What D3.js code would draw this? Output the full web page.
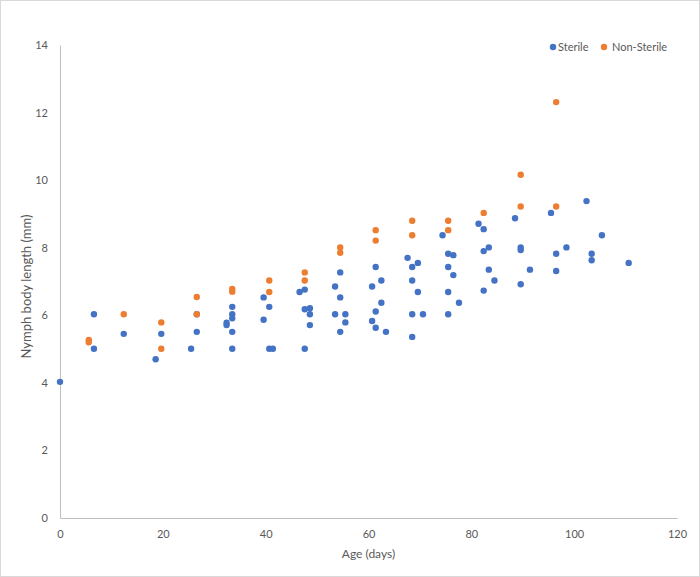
<!DOCTYPE html>
<html>
<head>
<meta charset="utf-8">
<script src="https://cdn.jsdelivr.net/npm/d3@7"></script>
<style>
    body { margin: 0; background: #fff; }
    text { font-family: Lato, "Open Sans", sans-serif; fill: #595959; }
</style>
</head>
<body>
<div id="chart"></div>
<script>
// values
const sterileAges = [
    0, 6.6, 6.6, 12.4, 18.6, 19.7, 25.5, 26.6, 26.6, 32.4, 32.4,
    33.5, 33.5, 33.5, 33.5, 33.5, 39.6, 39.6, 40.7, 40.7, 41.4,
    46.6, 47.6, 47.6, 47.6, 48.6, 48.6, 48.6, 53.5, 53.5,
    54.5, 54.5, 54.5, 55.5, 55.5, 60.7, 60.7, 61.4, 61.4, 61.4,
    62.5, 62.5, 63.4, 67.6, 68.5, 68.5, 68.5, 68.5, 69.6, 69.6, 70.6,
    74.4, 75.5, 75.5, 75.5, 75.5, 76.5, 76.5, 77.6, 81.4,
    82.4, 82.4, 82.4, 83.4, 83.4, 84.5, 88.5, 89.6, 89.6, 89.6, 91.4,
    95.5, 96.5, 96.5, 98.5, 102.4, 103.4, 103.4, 105.4, 110.6
];
const sterileLengths = [
    4.03, 6.03, 5.01, 5.45, 4.70, 5.45, 5.01, 6.03, 5.51, 5.78, 5.71,
    6.25, 6.03, 5.91, 5.51, 5.01, 6.53, 5.87, 6.25, 5.01, 5.01,
    6.69, 6.76, 6.18, 5.01, 6.21, 6.03, 5.71, 6.85, 6.03,
    7.27, 6.53, 5.51, 6.03, 5.79, 6.85, 5.83, 7.43, 6.11, 5.63,
    7.03, 6.37, 5.51, 7.70, 7.43, 7.03, 6.03, 5.36, 7.55, 6.69, 6.03,
    8.37, 7.82, 7.43, 6.69, 6.03, 7.78, 7.19, 6.37, 8.71,
    8.55, 7.90, 6.73, 8.01, 7.35, 7.03, 8.87, 8.01, 7.93, 6.92, 7.35,
    9.03, 7.82, 7.31, 8.01, 9.38, 7.82, 7.63, 8.37, 7.55
];
const nonSterileAges = [
    5.6, 5.6, 12.4, 19.7, 19.7, 26.6, 26.6, 33.5, 33.5, 40.7, 40.7,
    47.6, 47.6, 54.5, 54.5, 61.4, 61.4, 68.5, 68.5, 75.5, 75.5,
    82.4, 89.6, 89.6, 96.5, 96.5
];
const nonSterileLengths = [
    5.27, 5.20, 6.03, 5.79, 5.01, 6.54, 6.03, 6.78, 6.70, 7.03, 6.69,
    7.27, 7.03, 8.01, 7.85, 8.52, 8.21, 8.80, 8.37, 8.80, 8.52,
    9.03, 10.16, 9.22, 12.31, 9.22
];
const seriesNames = ['Sterile', 'Non-Sterile'];
const seriesColors = ['#4472C4', '#ED7D31'];
const xTicks = [0, 20, 40, 60, 80, 100, 120];
const yTicks = [0, 2, 4, 6, 8, 10, 12, 14];

const width = 700;
const height = 577;
const margin = {top: 45, right: 23, bottom: 59, left: 60};

const series = [
    sterileAges.map((a, i) => ({age: a, len: sterileLengths[i]})),
    nonSterileAges.map((a, i) => ({age: a, len: nonSterileLengths[i]}))
];

const svg = d3.select('#chart').append('svg')
    .attr('width', width)
    .attr('height', height);

// chart area border
svg.append('rect')
    .attr('x', 0.5).attr('y', 0.5)
    .attr('width', width - 1).attr('height', height - 1)
    .attr('fill', '#fff')
    .attr('stroke', '#D9D9D9');

const scaleX = d3.scaleLinear().domain([0, 120]).range([margin.left, width - margin.right]);
const scaleY = d3.scaleLinear().domain([0, 14]).range([height - margin.bottom, margin.top]);

const axisX = d3.axisBottom(scaleX).tickValues(xTicks).tickSize(0).tickPadding(12);
const axisY = d3.axisLeft(scaleY).tickValues(yTicks).tickSize(0).tickPadding(12);

const axisXGroup = svg.append('g')
    .attr('transform', `translate(0, ${height - margin.bottom})`)
    .call(axisX);
const axisYGroup = svg.append('g')
    .attr('transform', `translate(${margin.left}, 0)`)
    .call(axisY);

[axisXGroup, axisYGroup].forEach(g => {
    g.select('.domain').attr('stroke', '#BFBFBF');
    g.selectAll('text')
        .style('font-family', 'Lato, sans-serif')
        .style('font-size', '11px')
        .attr('fill', '#595959');
});

// axis titles
svg.append('text')
    .attr('x', (margin.left + width - margin.right) / 2)
    .attr('y', 558)
    .attr('text-anchor', 'middle')
    .style('font-size', '12px')
    .text('Age (days)');

svg.append('text')
    .attr('transform', `translate(31, ${(margin.top + height - margin.bottom) / 2 + 5}) rotate(-90)`)
    .attr('text-anchor', 'middle')
    .style('font-size', '13px')
    .text('Nymph body length (mm)');

// points
const body = svg.append('g').classed('svg-body', true);
series.forEach((data, k) => {
    body.append('g')
        .selectAll('circle')
        .data(data)
        .join('circle')
        .attr('cx', d => scaleX(d.age))
        .attr('cy', d => scaleY(d.len))
        .attr('r', 3.2)
        .attr('fill', seriesColors[k]);
});

// legend
const legendX = [553, 604];
const legend = svg.append('g');
seriesNames.forEach((name, k) => {
    legend.append('circle')
        .attr('cx', legendX[k])
        .attr('cy', 47)
        .attr('r', 3.2)
        .attr('fill', seriesColors[k]);
    legend.append('text')
        .attr('x', legendX[k] + (k === 0 ? 5 : 8))
        .attr('y', 51)
        .style('font-size', '11px')
        .text(name);
});
</script>
</body>
</html>
